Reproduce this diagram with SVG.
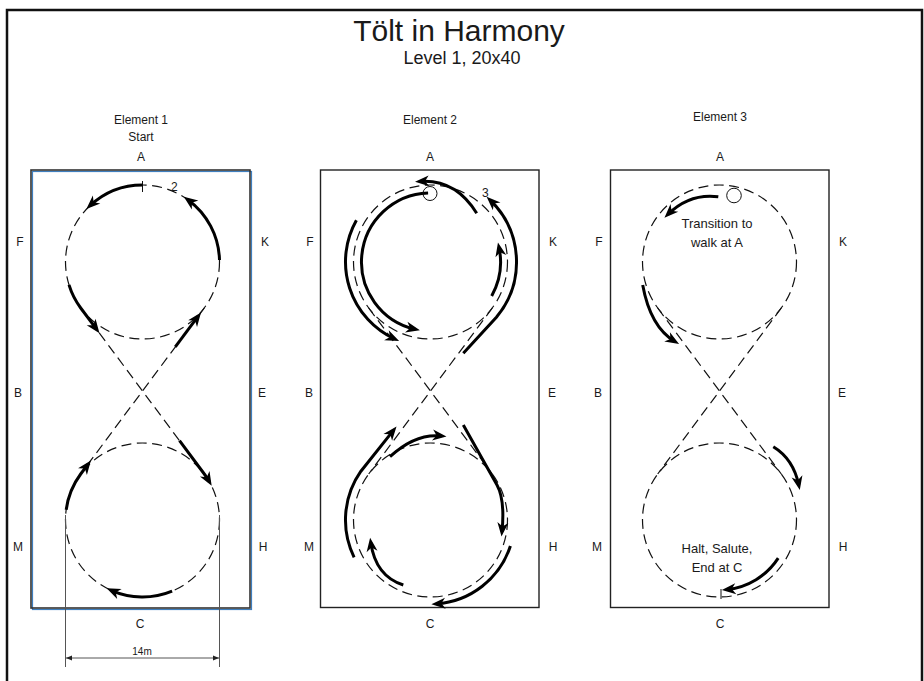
<svg xmlns="http://www.w3.org/2000/svg" width="924" height="681" viewBox="0 0 924 681">
<style>
text{font-family:"Liberation Sans",Arial,sans-serif;fill:#1a1a1a}
.title{font-size:30px;text-anchor:middle}
.sub{font-size:18px;text-anchor:middle}
.lbl{font-size:12px;text-anchor:middle}
.note{font-size:13px;text-anchor:middle}
.num{font-size:12px}
.dash{fill:none;stroke:#111;stroke-width:1.2;stroke-dasharray:10 5.5}
.arr{fill:none;stroke:#000;stroke-width:3;marker-end:url(#ah)}
.arena{fill:none;stroke:#222;stroke-width:1.4}
.thin{fill:none;stroke:#111;stroke-width:1}
.dim{fill:none;stroke:#555;stroke-width:1}
</style>
<defs>
<marker id="ah" markerUnits="userSpaceOnUse" markerWidth="16" markerHeight="12" refX="9" refY="0" orient="auto" overflow="visible">
<path d="M14,0 L0,-5.5 L4,0 L0,5.5 Z" fill="#000"/>
</marker>
<marker id="dm" markerUnits="userSpaceOnUse" markerWidth="8" markerHeight="6" refX="6" refY="0" orient="auto-start-reverse" overflow="visible">
<path d="M6,0 L0,-2.5 L0,2.5 Z" fill="#222"/>
</marker>
<g id="eight">
<circle class="dash" cx="0" cy="-129" r="77"/>
<circle class="dash" cx="0" cy="129" r="77"/>
<path class="dash" d="M-61.8,-83 L61.8,83 M61.8,-83 L-61.8,83"/>
</g>
</defs>

<rect width="924" height="681" fill="#fff"/>
<path d="M7,681 V10 H922 V681" fill="none" stroke="#111" stroke-width="2.5"/>

<g id="header">
<text class="title" x="459" y="41">Tölt in Harmony</text>
<text class="sub" x="462" y="64">Level 1, 20x40</text>
</g>

<g id="element1">
<text class="lbl" x="141" y="124">Element 1</text>
<text class="lbl" x="141" y="141">Start</text>
<text class="lbl" x="141" y="161">A</text>
<text class="lbl" x="140" y="628">C</text>
<text class="lbl" x="20" y="246">F</text>
<text class="lbl" x="18" y="397">B</text>
<text class="lbl" x="18" y="551">M</text>
<text class="lbl" x="265" y="246">K</text>
<text class="lbl" x="262" y="397">E</text>
<text class="lbl" x="263" y="551">H</text>
<rect x="32.5" y="171.5" width="219" height="438" fill="none" stroke="#3f7fbf" stroke-width="1.2"/>
<rect x="31" y="170" width="219" height="438" fill="none" stroke="#333" stroke-width="1.6"/>
<g transform="translate(142.5,391)">
<use href="#eight"/>
<path class="thin" d="M0,-210 V-199"/>
<path class="arr" d="M0,-206 A77,77 0 0 0 -52.5,-185.3"/>
<path class="arr" d="M77,-131 A77,77 0 0 0 45.3,-191.3"/>
<path class="arr" d="M-73.5,-106.1 A77,77 0 0 0 -61.8,-83 L-46,-61.8"/>
<path class="arr" d="M32.8,-44.1 L55.5,-74.6"/>
<path class="arr" d="M37,49.7 L61.8,83 A77,77 0 0 1 66.7,90.5"/>
<path class="arr" d="M-76.3,118.8 A77,77 0 0 1 -61.8,83 L-54.6,73.4"/>
<path class="arr" d="M29.6,200.1 A77,77 0 0 1 -31.3,199.3"/>
</g>
<text class="num" x="171" y="191">2</text>
<g id="dimension">
<path class="dim" d="M65.5,515 V667 M219.5,515 V667"/>
<path class="dim" d="M66,658 H219" marker-start="url(#dm)" marker-end="url(#dm)"/>
<text x="142" y="655" font-size="10" text-anchor="middle">14m</text>
</g>
</g>

<g id="element2">
<text class="lbl" x="430" y="124">Element 2</text>
<text class="lbl" x="430" y="161">A</text>
<text class="lbl" x="430" y="628">C</text>
<text class="lbl" x="310" y="246">F</text>
<text class="lbl" x="309" y="397">B</text>
<text class="lbl" x="309" y="551">M</text>
<text class="lbl" x="553" y="246">K</text>
<text class="lbl" x="552" y="397">E</text>
<text class="lbl" x="553" y="551">H</text>
<rect class="arena" x="320.5" y="170" width="218.5" height="437.5"/>
<g transform="translate(430.5,391)">
<use href="#eight"/>
<path class="arr" d="M-2.4,-198 A69,69 0 0 0 -15.5,-61.8"/>
<path class="arr" d="M-74.1,-170.7 A85,85 0 0 0 -35.9,-52"/>
<path class="arr" d="M32.8,-37.7 L65.9,-73.7 A86,86 0 0 0 59.7,-190.9"/>
<path class="arr" d="M61.2,-95.1 A70,70 0 0 0 68.5,-143.6"/>
<path class="arr" d="M46.2,-177.7 Q25,-212 -10.5,-209.5"/>
<path class="arr" d="M-76.4,166.3 A85,85 0 0 1 -69.6,80.2 L-37.1,39.4"/>
<path class="arr" d="M-40.5,65.7 Q-15,42 11,45"/>
<path class="arr" d="M32.8,34 L66.5,94 C72,104 73.5,120 71.5,140.5"/>
<path class="arr" d="M-27.2,194 Q-55,185 -59.7,151.6"/>
<path class="arr" d="M79.9,155 A84,84 0 0 1 5.9,212.8"/>
</g>
<circle class="thin" cx="430" cy="193.5" r="7"/>
<text class="num" x="482" y="197">3</text>
</g>

<g id="element3">
<text class="lbl" x="720" y="121">Element 3</text>
<text class="lbl" x="720" y="161">A</text>
<text class="lbl" x="720" y="628">C</text>
<text class="lbl" x="599" y="246">F</text>
<text class="lbl" x="598" y="397">B</text>
<text class="lbl" x="597" y="551">M</text>
<text class="lbl" x="843" y="246">K</text>
<text class="lbl" x="842" y="397">E</text>
<text class="lbl" x="843" y="551">H</text>
<rect class="arena" x="610.5" y="170" width="218.5" height="437.5"/>
<g transform="translate(719.5,391)">
<use href="#eight"/>
<path class="arr" d="M-1.2,-194.3 Q-30,-198 -51.5,-176.7"/>
<path class="arr" d="M-76.8,-106 Q-69.2,-64.2 -44.7,-49.5"/>
<path class="arr" d="M53.8,55.7 Q74,68 79.3,94.2"/>
<path class="arr" d="M58.7,167.1 A70,70 0 0 1 7.3,198.6"/>
<path class="thin" d="M1.5,198 V208"/>
</g>
<circle class="thin" cx="734" cy="195.5" r="7.3"/>
<text class="note" x="717" y="228">Transition to</text>
<text class="note" x="717" y="247">walk at A</text>
<text class="note" x="717" y="553">Halt, Salute,</text>
<text class="note" x="717" y="572">End at C</text>
</g>
</svg>
